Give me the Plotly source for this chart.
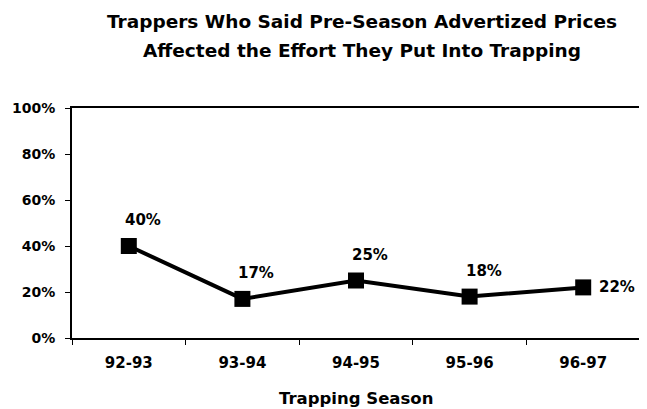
import plotly.graph_objects as go

seasons = ['92-93', '93-94', '94-95', '95-96', '96-97']
percent_affected = [40, 17, 25, 18, 22]
y_ticks = [0, 20, 40, 60, 80, 100]
y_tick_labels = ['0%', '20%', '40%', '60%', '80%', '100%']

font_name = 'DejaVu Sans'

fig = go.Figure()

fig.add_trace(go.Scatter(
    x=seasons,
    y=percent_affected,
    mode='lines+markers',
    line=dict(color='black', width=4),
    marker=dict(symbol='square', size=16, color='black'),
    showlegend=False,
    hoverinfo='skip'
))

# point labels
for i, (s, v) in enumerate(zip(seasons, percent_affected)):
    last = i == len(seasons) - 1
    fig.add_annotation(
        x=s, y=v, text=f'{v}%', showarrow=False,
        xanchor='left' if last else 'center',
        xshift=14 if last else 14,
        yshift=0 if last else 26,
        font=dict(family=font_name, size=15, color='black', weight='bold')
    )

fig.add_annotation(
    text='Trappers Who Said Pre-Season Advertized Prices',
    xref='paper', yref='paper', x=0.51, y=1.374, showarrow=False,
    xanchor='center', yanchor='middle',
    font=dict(family=font_name, size=18.5, color='black', weight='bold')
)
fig.add_annotation(
    text='Affected the Effort They Put Into Trapping',
    xref='paper', yref='paper', x=0.51, y=1.252, showarrow=False,
    xanchor='center', yanchor='middle',
    font=dict(family=font_name, size=18.5, color='black', weight='bold')
)
fig.add_annotation(
    text='Trapping Season',
    xref='paper', yref='paper', x=0.5, y=-0.261, showarrow=False,
    xanchor='center', yanchor='middle',
    font=dict(family=font_name, size=16.5, color='black', weight='bold')
)

# the page body adds an 8px offset, so the figure is sized to fit inside it
fig.update_layout(
    width=639, height=401,
    margin=dict(l=64, r=7, t=100, b=71),
    paper_bgcolor='white', plot_bgcolor='white',
    font=dict(family=font_name, size=14, color='black', weight='bold'),
    xaxis=dict(
        type='category', range=[-0.5, 4.5],
        ticks='outside', ticklen=5, tickcolor='black', tickson='boundaries',
        ticklabelstandoff=10,
        showgrid=False, zeroline=False, automargin=False,
        showline=True, linecolor='black', linewidth=2, mirror=True,
        tickfont=dict(family=font_name, size=15, color='black', weight='bold')
    ),
    yaxis=dict(
        range=[0, 100], tickmode='array', tickvals=y_ticks, ticktext=y_tick_labels,
        ticks='outside', ticklen=5, tickcolor='black', automargin=False,
        ticklabelstandoff=7,
        showgrid=False, zeroline=False,
        showline=True, linecolor='black', linewidth=2, mirror=True,
        tickfont=dict(family=font_name, size=14, color='black', weight='bold')
    )
)

fig.write_html('out.html')
